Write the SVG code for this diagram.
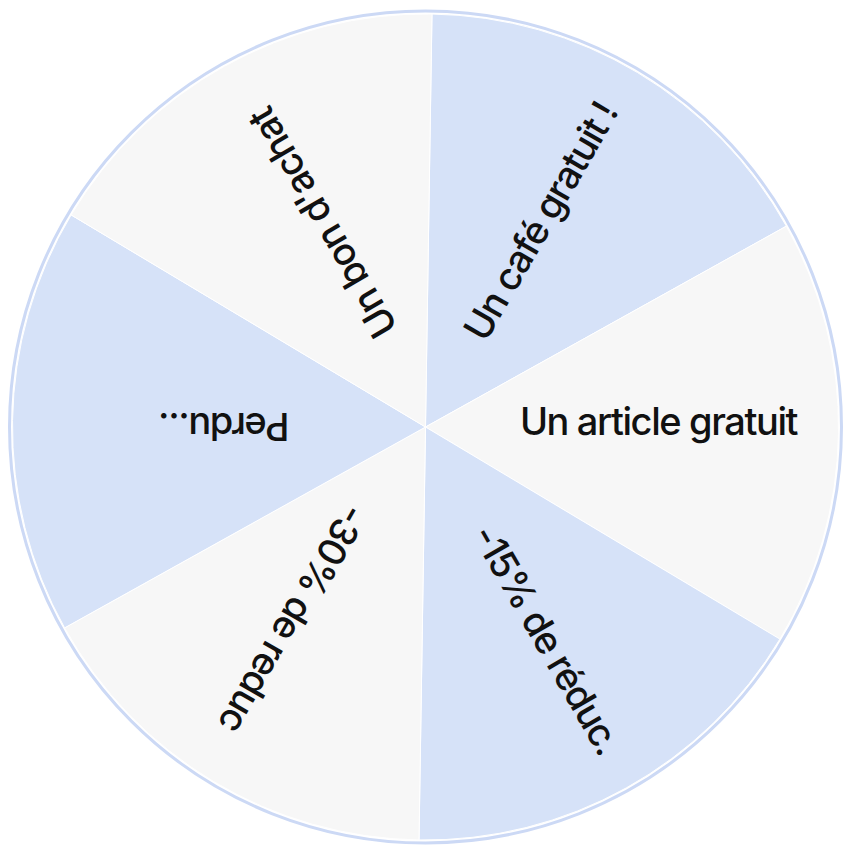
<svg xmlns="http://www.w3.org/2000/svg" width="851" height="852" viewBox="0 0 851 852">
<style>
.g{fill:#f7f7f7;stroke:#ffffff;stroke-width:1}
.b{fill:#d6e2f8;stroke:#ffffff;stroke-width:1}
.t{font-family:Inter,"Liberation Sans",sans-serif;font-size:38px;font-weight:500;letter-spacing:-1.4px;fill:#111111;text-anchor:middle}
</style>
<rect width="851" height="852" fill="#ffffff"/>
<circle cx="425.5" cy="427" r="416" fill="none" stroke="#ccd9f5" stroke-width="3"/>
<g id="wedges">
<path id="w-cafe" class="b" d="M425.5,427 L431.99,14.05 A413,413 0 0 1 786.38,226.14 Z"/>
<path id="w-article" class="g" d="M425.5,427 L786.38,226.14 A413,413 0 0 1 779.88,639.09 Z"/>
<path id="w-15" class="b" d="M425.5,427 L779.88,639.09 A413,413 0 0 1 419.01,839.95 Z"/>
<path id="w-30" class="g" d="M425.5,427 L419.01,839.95 A413,413 0 0 1 64.62,627.86 Z"/>
<path id="w-perdu" class="b" d="M425.5,427 L64.62,627.86 A413,413 0 0 1 71.12,214.91 Z"/>
<path id="w-bon" class="g" d="M425.5,427 L71.12,214.91 A413,413 0 0 1 431.99,14.05 Z"/>
</g>
<g id="label-cafe"><text class="t" transform="translate(540,221) rotate(-60)" y="14">Un café gratuit !</text></g>
<g id="label-article"><text class="t" transform="translate(658.5,421) rotate(0)" y="14">Un article gratuit</text></g>
<g id="label-15"><text class="t" transform="translate(547.5,639) rotate(60)" y="14">-15% de réduc.</text></g>
<g id="label-30"><text class="t" transform="translate(293.5,619) rotate(120)" y="14">-30% de reduc</text></g>
<g id="label-perdu"><text class="t" transform="translate(224.5,427) rotate(180)" y="14">Perdu...</text></g>
<g id="label-bon"><text class="t" transform="translate(322,223.5) rotate(240)" y="14">Un bon d'achat</text></g>
</svg>
